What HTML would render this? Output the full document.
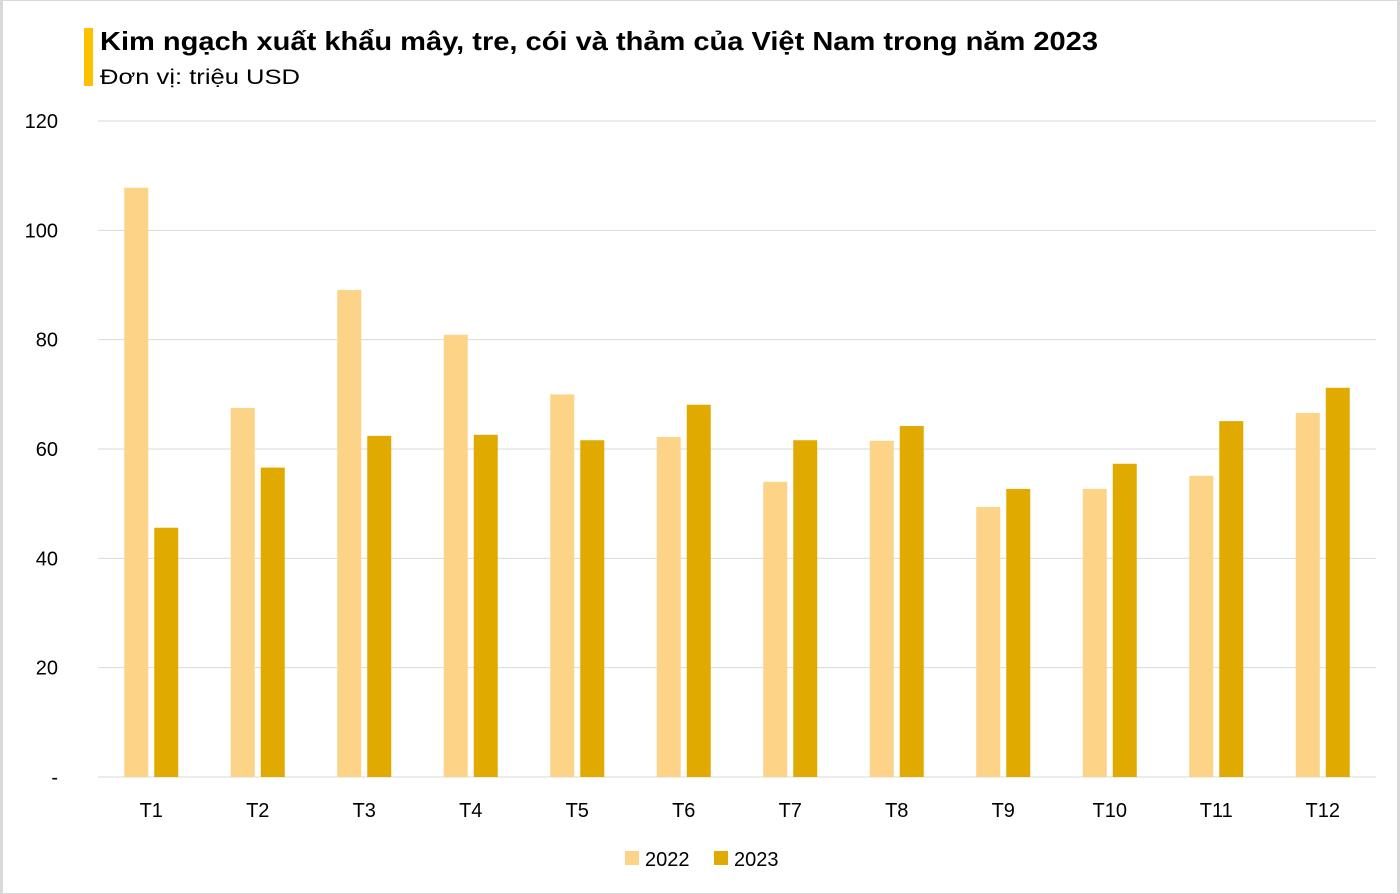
<!DOCTYPE html>
<html><head><meta charset="utf-8"><style>
body{margin:0;background:#fff;font-family:"Liberation Sans",Arial,sans-serif}
#wrap{position:relative;width:1400px;height:894px;box-sizing:border-box;border:1px solid #d9d9d9;border-left:3px solid #d9d9d9;border-right:3px solid #d9d9d9;overflow:hidden}
</style></head><body>
<div id="wrap">
<svg id="chart" width="1400" height="894" style="position:absolute;left:-3px;top:-1px">
<rect x="84" y="28" width="9" height="58" fill="#ffc000"/>
<text x="100" y="50" font-size="26" font-weight="bold" fill="#000" textLength="998" lengthAdjust="spacingAndGlyphs">Kim ngạch xuất khẩu mây, tre, cói và thảm của Việt Nam trong năm 2023</text>
<text x="100" y="84" font-size="21" fill="#000" textLength="200" lengthAdjust="spacingAndGlyphs">Đơn vị: triệu USD</text>
<g id="grid"></g><g id="bars"></g><g id="xlabels"></g>
<g>
<rect x="625" y="851" width="14" height="14" fill="#fdd388"/>
<text x="645" y="866" font-size="20">2022</text>
<rect x="714" y="851" width="14" height="14" fill="#e0aa00"/>
<text x="734" y="866" font-size="20">2023</text>
</g>
</svg>
</div>
<script>
const categories=["T1","T2","T3","T4","T5","T6","T7","T8","T9","T10","T11","T12"];
const values2022=[107.8,67.5,89.1,80.9,70.0,62.2,54.0,61.5,49.4,52.7,55.1,66.6];
const values2023=[45.6,56.6,62.4,62.6,61.6,68.1,61.6,64.2,52.7,57.3,65.1,71.2];
const yTicks=[0,20,40,60,80,100,120];
const yTickLabels=["-","20","40","60","80","100","120"];
const NS="http://www.w3.org/2000/svg";
const plotLeft=98,plotRight=1376,plotTop=121,plotBottom=777,yMax=120;
const yScale=v=>plotBottom-(v/yMax)*(plotBottom-plotTop);
const band=(plotRight-plotLeft)/categories.length;
const xCenter=i=>plotLeft+band*(i+0.5);
function mk(tag,attrs,parent){const e=document.createElementNS(NS,tag);for(const k in attrs)e.setAttribute(k,attrs[k]);parent.appendChild(e);return e;}
const grid=document.getElementById('grid');
yTicks.forEach((t,i)=>{
 const l=mk('line',{x1:plotLeft,x2:plotRight,y1:yScale(t),y2:yScale(t),stroke:'#d9d9d9','stroke-width':1},grid);
 
 
 const tx=mk('text',{x:58,y:yScale(t)+7,'font-size':20,'text-anchor':'end',fill:'#000'},grid);
 tx.textContent=yTickLabels[i];
 
 
});
const bars=document.getElementById('bars'),xl=document.getElementById('xlabels');
categories.forEach((c,i)=>{
 const c0=xCenter(i);
 const b1=mk('rect',{x:c0-27,y:yScale(values2022[i]),width:24,height:plotBottom-yScale(values2022[i]),fill:'#fdd388'},bars);
 
 
 const b2=mk('rect',{x:c0+3,y:yScale(values2023[i]),width:24,height:plotBottom-yScale(values2023[i]),fill:'#e0aa00'},bars);
 
 
 const t=mk('text',{x:c0,y:817,'font-size':20,'text-anchor':'middle'},xl);
 t.textContent=c;
 
 
});
</script>
</body></html>
